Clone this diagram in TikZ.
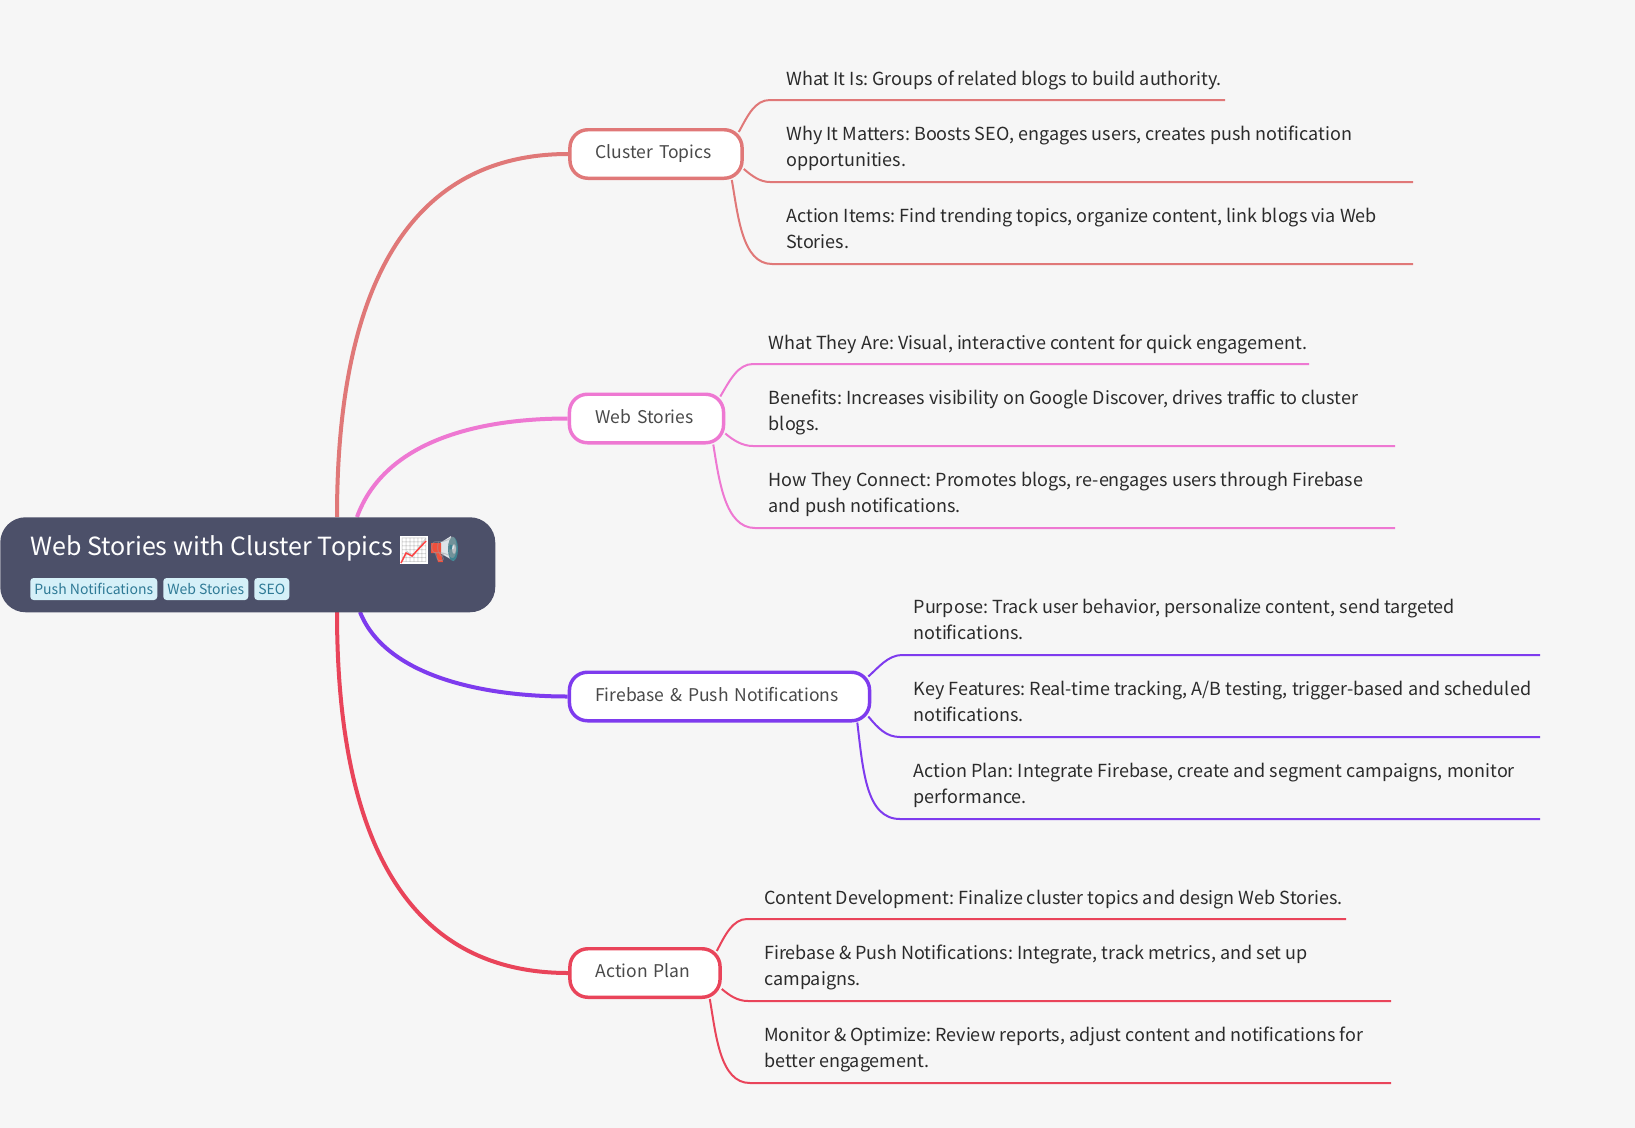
\documentclass[tikz,border=0pt]{standalone}
\usepackage{fontspec}
\usetikzlibrary{calc}
\setmainfont{Noto Sans CJK SC}
\newfontfamily\emojifont{Noto Emoji}
\frenchspacing
\definecolor{bgc}{HTML}{F6F6F6}
\definecolor{rootc}{HTML}{4C5069}
\definecolor{tagbg}{HTML}{D5F0F8}
\definecolor{tagfg}{HTML}{2F7A96}
\definecolor{leaftxt}{HTML}{2B2B2B}
\definecolor{brtxt}{HTML}{4A4A4A}
\definecolor{cA}{HTML}{E07878}
\definecolor{cB}{HTML}{EE78D2}
\definecolor{cC}{HTML}{7E3BEE}
\definecolor{cD}{HTML}{E9445A}
\definecolor{bell}{HTML}{DDE3E8}
\definecolor{teal}{HTML}{3F8391}
\definecolor{megared}{HTML}{F0503C}
\tikzset{
  x=0.75pt,y=-0.75pt,
  mainline/.style={line width=3pt,line cap=butt},
  leafline/.style={line width=1.5pt},
  branch/.style={draw,line width=2.6pt,fill=white,rounded corners=13.5pt,minimum height=36.4pt,
    inner xsep=19.4pt,inner ysep=0pt,align=left,text=brtxt,text height=10.6pt,text depth=3.4pt,
    font=\fontsize{13.15pt}{19pt}\selectfont},
  leaf/.style={anchor=south west,inner sep=0pt,text depth=0pt,align=left,text=leaftxt,
    font=\fontsize{13.5pt}{19.5pt}\selectfont},
  tagbox/.style={fill=tagbg,text=tagfg,rounded corners=2.5pt,inner sep=0pt,
    font=\fontsize{10.5pt}{14pt}\selectfont,minimum height=16.5pt,anchor=west},
  emoji/.style={anchor=center,inner sep=0pt,font=\emojifont\fontsize{18pt}{20pt}\selectfont},
}
\begin{document}
\begin{tikzpicture}
\useasboundingbox[fill=bgc] (0,0) rectangle (1635,1128);

% branch nodes
\node[branch,draw=cA,text width=120.4*0.75pt] (n1) at (656,154) {\mbox{Cluster Topics}};
\node[branch,draw=cB,text width=102.4*0.75pt] (n2) at (646.5,418.5) {\mbox{Web Stories}};
\node[branch,draw=cC,text width=248.4*0.75pt] (n3) at (719.5,696.5) {\mbox{Firebase \& Push Notifications}};
\node[branch,draw=cD,text width=98.4*0.75pt] (n4) at (645,973) {\mbox{Action Plan}};

\coordinate (a1) at (337,517);
\coordinate (a2) at (357,517);
\coordinate (a3) at (360,612);
\coordinate (a4) at (337,612);
\draw[mainline,cA] (a1) .. controls (337,270) and (420,154) .. (n1.west);
\draw[mainline,cB] (a2) .. controls (385,440) and (480,418.5) .. (n2.west);
\draw[mainline,cC] (a3) .. controls (385,675) and (480,696.5) .. (n3.west);
\draw[mainline,cD] (a4) .. controls (337,860) and (420,973) .. (n4.west);

% root
\node[fill=rootc,rounded corners=19pt,minimum width=371.25pt,minimum height=71.25pt,inner sep=0pt,anchor=north west] (root) at (0,517) {};
\node[anchor=base west,inner sep=0pt,text=white,font=\fontsize{18.75pt}{24pt}\selectfont] (title) at (30,555.5) {Web Stories with Cluster Topics};
\node[tagbox,minimum width=95.25pt] (t1) at (30,589) {Push Notifications};
\node[tagbox,minimum width=63.75pt] (t2) at (163,589) {Web Stories};
\node[tagbox,minimum width=26.25pt] (t3) at (254,589) {SEO};

% emoji
\fill[white] (400,536) rectangle (428,564);
\node[emoji,text=black!22] (e1) at (414,550) {📈};
\draw[red!75,line width=1.1pt] (401,563) -- (406,553) -- (412,556) -- (426,541);
\fill[bell] (440,543) -- (451,536) -- (454,561) -- (440,553) -- cycle;
\fill[megared] (431,543) -- (441,543) -- (441,553) -- (443,562) -- (438,562) -- (436,553) -- (431,553) -- cycle;
\fill[teal] (453,549) ellipse [x radius=5,y radius=12];
\fill[bell] (454,549) ellipse [x radius=2,y radius=5];
\node[emoji,text=bell!70!black,opacity=0.55] (e2) at (444,549) {📢};

% leaves 1
\coordinate (l11) at (770,100); \coordinate (r11) at (1225,100);
\coordinate (l12) at (770,182); \coordinate (r12) at (1413,182);
\coordinate (l13) at (772,264); \coordinate (r13) at (1413,264);
\draw[leafline,cA] ($(n1.north east)+(-5,4)$) .. controls (748,115) and (755,100) .. (l11) -- (r11);
\draw[leafline,cA] ($(n1.south east)+(0,-11)$) .. controls (752,176) and (760,182) .. (l12) -- (r12);
\draw[leafline,cA] ($(n1.south east)+(-12,0)$) .. controls (738,215) and (742,264) .. (l13) -- (r13);
\node[leaf] (t11) at (786,86) {What It Is: Groups of related blogs to build authority.};
\node[leaf] (t12) at (786,166.5) {Why It Matters: Boosts SEO, engages users, creates push notification\\opportunities.};
\node[leaf] (t13) at (786,248.5) {Action Items: Find trending topics, organize content, link blogs via Web\\Stories.};

% leaves 2
\coordinate (l21) at (753,364); \coordinate (r21) at (1309,364);
\coordinate (l22) at (753,446); \coordinate (r22) at (1395,446);
\coordinate (l23) at (755,528); \coordinate (r23) at (1395,528);
\draw[leafline,cB] ($(n2.north east)+(-5,4)$) .. controls (730,380) and (738,364) .. (l21) -- (r21);
\draw[leafline,cB] ($(n2.south east)+(0,-11)$) .. controls (733,440) and (742,446) .. (l22) -- (r22);
\draw[leafline,cB] ($(n2.south east)+(-12,0)$) .. controls (719,480) and (725,528) .. (l23) -- (r23);
\node[leaf] (t21) at (768.5,350) {What They Are: Visual, interactive content for quick engagement.};
\node[leaf] (t22) at (768.5,430.5) {Benefits: Increases visibility on Google Discover, drives traffic to cluster\\blogs.};
\node[leaf] (t23) at (768.5,512.5) {How They Connect: Promotes blogs, re-engages users through Firebase\\and push notifications.};

% leaves 3
\coordinate (l31) at (902,655); \coordinate (r31) at (1540,655);
\coordinate (l32) at (900,737); \coordinate (r32) at (1540,737);
\coordinate (l33) at (900,819); \coordinate (r33) at (1540,819);
\draw[leafline,cC] ($(n3.north east)+(-3,6)$) .. controls (878,668) and (888,655) .. (l31) -- (r31);
\draw[leafline,cC] ($(n3.south east)+(-3,-6)$) .. controls (878,728) and (886,737) .. (l32) -- (r32);
\draw[leafline,cC] ($(n3.south east)+(-14,0)$) .. controls (863,770) and (866,819) .. (l33) -- (r33);
\node[leaf] (t31) at (913.4,639.5) {Purpose: Track user behavior, personalize content, send targeted\\notifications.};
\node[leaf] (t32) at (913.4,721.5) {Key Features: Real-time tracking, A/B testing, trigger-based and scheduled\\notifications.};
\node[leaf] (t33) at (913.4,803.5) {Action Plan: Integrate Firebase, create and segment campaigns, monitor\\performance.};

% leaves 4
\coordinate (l41) at (747,919); \coordinate (r41) at (1346,919);
\coordinate (l42) at (748,1001); \coordinate (r42) at (1391,1001);
\coordinate (l43) at (750,1083); \coordinate (r43) at (1391,1083);
\draw[leafline,cD] ($(n4.north east)+(-5,4)$) .. controls (725,935) and (733,919) .. (l41) -- (r41);
\draw[leafline,cD] ($(n4.south east)+(0,-10)$) .. controls (729,995) and (737,1001) .. (l42) -- (r42);
\draw[leafline,cD] ($(n4.south east)+(-12,0)$) .. controls (716,1035) and (720,1083) .. (l43) -- (r43);
\node[leaf] (t41) at (764,905) {Content Development: Finalize cluster topics and design Web Stories.};
\node[leaf] (t42) at (764,985.5) {Firebase \& Push Notifications: Integrate, track metrics, and set up\\campaigns.};
\node[leaf] (t43) at (764,1067.5) {Monitor \& Optimize: Review reports, adjust content and notifications for\\better engagement.};
\end{tikzpicture}
\end{document}
